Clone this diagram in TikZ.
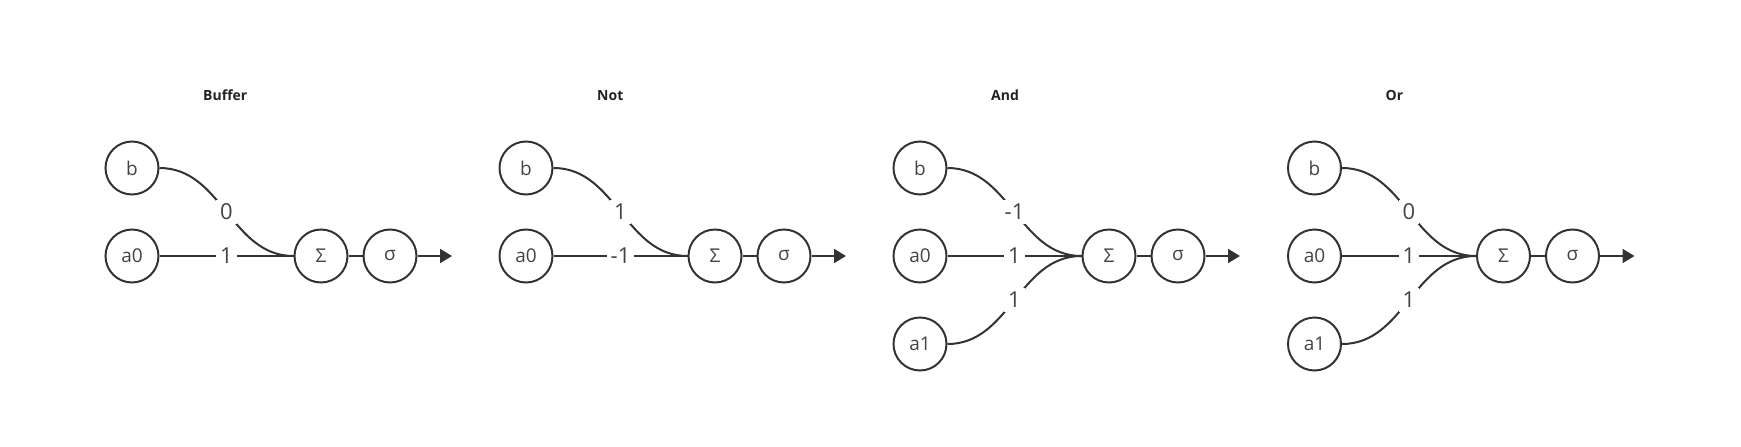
\documentclass[tikz,border=0pt]{standalone}
\usepackage{fontspec}
\setmainfont{Open Sans}
\usetikzlibrary{arrows.meta}
\definecolor{linec}{HTML}{333333}
\definecolor{textc}{HTML}{444444}
\definecolor{titlec}{HTML}{222222}
\begin{document}
\begin{tikzpicture}[x=1pt,y=-1pt,
  neuron/.style={circle,draw=linec,line width=2pt,minimum size=53pt,inner sep=0pt,font=\fontsize{19}{22}\selectfont,text=textc},
  wlab/.style={fill=white,inner sep=4pt,font=\fontsize{22}{26}\selectfont,text=textc},
  conn/.style={draw=linec,line width=2pt},
  outarrow/.style={conn,-{Triangle[length=12pt,width=14pt]}},
  paneltitle/.style={anchor=west,font=\bfseries\fontsize{14}{17}\selectfont,text=titlec,inner sep=0pt}]
\useasboundingbox (0,0) rectangle (1741,447);
% ---------- Buffer ----------
\begin{scope}[xshift=132pt]
  \node[paneltitle] (t1) at (71,95.5) {Buffer};
  \node[neuron] (b1) at (0,168) {b};
  \node[neuron] (x1) at (0,256) {a0};
  \node[neuron] (s1) at (189,256) {Σ};
  \node[neuron] (g1) at (258,256) {σ};
  \coordinate (o1) at (320,256);
  \draw[conn] (b1.east) to[out=0,in=180] node[wlab,midway] {0} (s1.west);
  \draw[conn] (x1.east) -- node[wlab,midway] {1} (s1.west);
  \draw[conn] (s1) -- (g1);
  \draw[outarrow] (g1.east) -- (o1);
\end{scope}
% ---------- Not ----------
\begin{scope}[xshift=526pt]
  \node[paneltitle] (t2) at (71,95.5) {Not};
  \node[neuron] (b2) at (0,168) {b};
  \node[neuron] (x2) at (0,256) {a0};
  \node[neuron] (s2) at (189,256) {Σ};
  \node[neuron] (g2) at (258,256) {σ};
  \coordinate (o2) at (320,256);
  \draw[conn] (b2.east) to[out=0,in=180] node[wlab,midway] {1} (s2.west);
  \draw[conn] (x2.east) -- node[wlab,midway] {-1} (s2.west);
  \draw[conn] (s2) -- (g2);
  \draw[outarrow] (g2.east) -- (o2);
\end{scope}
% ---------- And ----------
\begin{scope}[xshift=920pt]
  \node[paneltitle] (t3) at (71,95.5) {And};
  \node[neuron] (b3) at (0,168) {b};
  \node[neuron] (x3) at (0,256) {a0};
  \node[neuron] (y3) at (0,344) {a1};
  \node[neuron] (s3) at (189,256) {Σ};
  \node[neuron] (g3) at (258,256) {σ};
  \coordinate (o3) at (320,256);
  \draw[conn] (b3.east) to[out=0,in=180] node[wlab,midway] {-1} (s3.west);
  \draw[conn] (x3.east) -- node[wlab,midway] {1} (s3.west);
  \draw[conn] (y3.east) to[out=0,in=180] node[wlab,midway] {1} (s3.west);
  \draw[conn] (s3) -- (g3);
  \draw[outarrow] (g3.east) -- (o3);
\end{scope}
% ---------- Or ----------
\begin{scope}[xshift=1314.5pt]
  \node[paneltitle] (t4) at (71,95.5) {Or};
  \node[neuron] (b4) at (0,168) {b};
  \node[neuron] (x4) at (0,256) {a0};
  \node[neuron] (y4) at (0,344) {a1};
  \node[neuron] (s4) at (189,256) {Σ};
  \node[neuron] (g4) at (258,256) {σ};
  \coordinate (o4) at (320,256);
  \draw[conn] (b4.east) to[out=0,in=180] node[wlab,midway] {0} (s4.west);
  \draw[conn] (x4.east) -- node[wlab,midway] {1} (s4.west);
  \draw[conn] (y4.east) to[out=0,in=180] node[wlab,midway] {1} (s4.west);
  \draw[conn] (s4) -- (g4);
  \draw[outarrow] (g4.east) -- (o4);
\end{scope}
\end{tikzpicture}
\end{document}
